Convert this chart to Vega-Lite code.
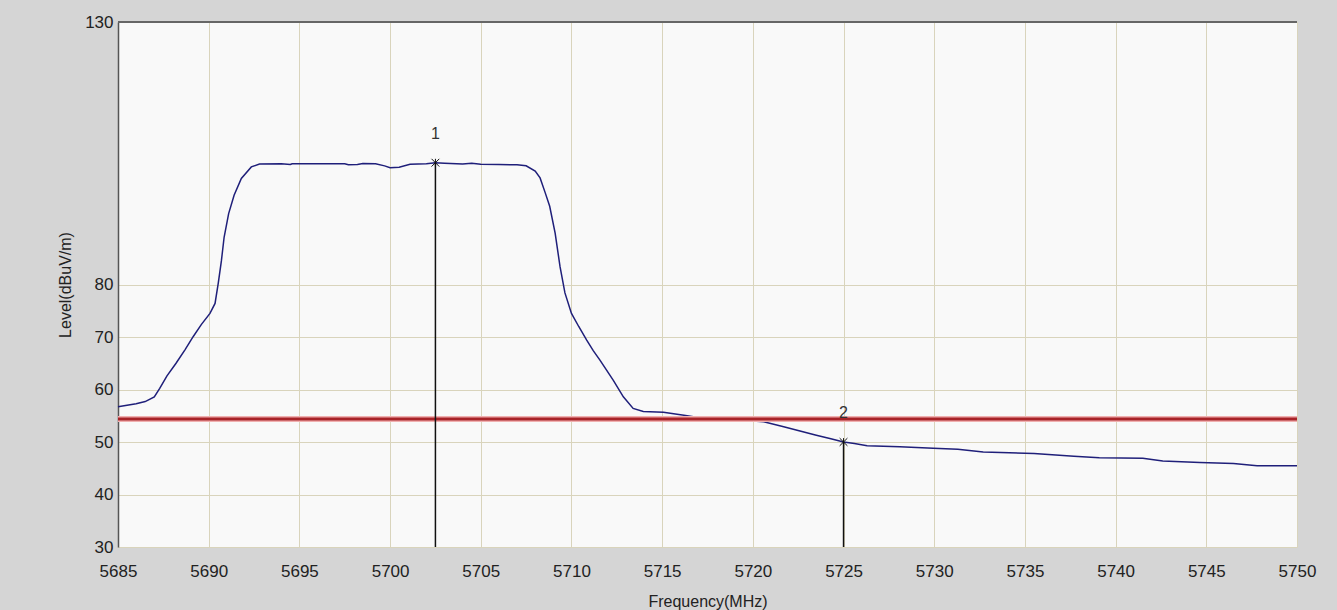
{
  "$schema": "https://vega.github.io/schema/vega-lite/v6.json",
  "width": 1179,
  "height": 525,
  "autosize": {"type": "none"},
  "padding": {"left": 118, "top": 22, "right": 40, "bottom": 63},
  "background": "#d5d5d5",
  "config": {
    "view": {"fill": "#f9f9f9", "stroke": null},
    "font": "Liberation Sans"
  },
  "datasets": {
    "trace": [
      {"f": 5685, "level": 56.7}, {"f": 5685.5, "level": 57.0}, {"f": 5686, "level": 57.3}, {"f": 5686.5, "level": 57.7},
      {"f": 5687, "level": 58.6}, {"f": 5687.3, "level": 60.2}, {"f": 5687.7, "level": 62.6}, {"f": 5688.2, "level": 65.0},
      {"f": 5688.7, "level": 67.6}, {"f": 5689.15, "level": 70.1}, {"f": 5689.6, "level": 72.4}, {"f": 5690.07, "level": 74.5},
      {"f": 5690.35, "level": 76.4}, {"f": 5690.53, "level": 80.3}, {"f": 5690.7, "level": 84.5}, {"f": 5690.85, "level": 89.0},
      {"f": 5691.1, "level": 93.5}, {"f": 5691.4, "level": 97.0}, {"f": 5691.8, "level": 100.2}, {"f": 5692.35, "level": 102.4},
      {"f": 5692.8, "level": 102.95}, {"f": 5694, "level": 103.0}, {"f": 5694.5, "level": 102.85}, {"f": 5694.6, "level": 103.0},
      {"f": 5696, "level": 103.0}, {"f": 5697.5, "level": 103.0}, {"f": 5697.7, "level": 102.8}, {"f": 5698.2, "level": 102.85},
      {"f": 5698.5, "level": 103.05}, {"f": 5699.2, "level": 103.0}, {"f": 5699.7, "level": 102.6}, {"f": 5700.0, "level": 102.25},
      {"f": 5700.5, "level": 102.35}, {"f": 5701.1, "level": 102.9}, {"f": 5702.0, "level": 103.0}, {"f": 5702.5, "level": 103.2},
      {"f": 5703.0, "level": 103.1}, {"f": 5704.0, "level": 102.95}, {"f": 5704.5, "level": 103.1}, {"f": 5705.0, "level": 102.9},
      {"f": 5706.0, "level": 102.85}, {"f": 5707.0, "level": 102.8}, {"f": 5707.5, "level": 102.6}, {"f": 5708.0, "level": 101.6},
      {"f": 5708.27, "level": 100.3}, {"f": 5708.55, "level": 97.5}, {"f": 5708.8, "level": 94.9}, {"f": 5709.1, "level": 89.8},
      {"f": 5709.37, "level": 83.4}, {"f": 5709.64, "level": 78.4}, {"f": 5710.0, "level": 74.5}, {"f": 5710.4, "level": 72.0},
      {"f": 5710.84, "level": 69.4}, {"f": 5711.2, "level": 67.4}, {"f": 5711.57, "level": 65.6}, {"f": 5712.3, "level": 61.8},
      {"f": 5712.86, "level": 58.6}, {"f": 5713.4, "level": 56.4}, {"f": 5713.96, "level": 55.8}, {"f": 5715.07, "level": 55.65},
      {"f": 5716.2, "level": 55.1}, {"f": 5716.9, "level": 54.7}, {"f": 5718.0, "level": 54.5}, {"f": 5719.0, "level": 54.3},
      {"f": 5719.8, "level": 54.05}, {"f": 5720.6, "level": 53.85}, {"f": 5721.7, "level": 52.9}, {"f": 5722.6, "level": 52.1},
      {"f": 5723.5, "level": 51.3}, {"f": 5724.3, "level": 50.6}, {"f": 5725.0, "level": 50.0}, {"f": 5725.6, "level": 49.7},
      {"f": 5726.3, "level": 49.3}, {"f": 5728.1, "level": 49.1}, {"f": 5729.95, "level": 48.8}, {"f": 5731.3, "level": 48.6},
      {"f": 5732.7, "level": 48.1}, {"f": 5735.5, "level": 47.8}, {"f": 5737.7, "level": 47.3}, {"f": 5739.1, "level": 47.0},
      {"f": 5741.5, "level": 46.9}, {"f": 5742.6, "level": 46.4}, {"f": 5744.65, "level": 46.1}, {"f": 5746.5, "level": 45.9},
      {"f": 5747.8, "level": 45.5}, {"f": 5750, "level": 45.5}
    ],
    "markers": [
      {"f": 5702.5, "level": 103.2, "floor": 30, "label": "1"},
      {"f": 5725, "level": 50.0, "floor": 30, "label": "2"}
    ],
    "limit": [{"level": 54.4}],
    "frame": [{"level": 130}]
  },
  "layer": [
    {
      "data": {"name": "trace"},
      "mark": {"type": "line", "color": "#1f1f7a", "strokeWidth": 1.5},
      "encoding": {
        "x": {
          "field": "f", "type": "quantitative",
          "scale": {"domain": [5685, 5750], "nice": false, "zero": false},
          "axis": {
            "values": [5685, 5690, 5695, 5700, 5705, 5710, 5715, 5720, 5725, 5730, 5735, 5740, 5745, 5750],
            "format": "d",
            "title": "Frequency(MHz)", "titleFontSize": 16, "titleFontWeight": "normal", "titleColor": "#222222",
            "titlePadding": 14,
            "labelFontSize": 17, "labelColor": "#222222", "labelPadding": 16, "labelFlush": false,
            "grid": true, "gridColor": "#d9d4bc", "gridWidth": 1,
            "ticks": false, "domain": false
          }
        },
        "y": {
          "field": "level", "type": "quantitative",
          "scale": {"domain": [30, 130], "nice": false, "zero": false},
          "axis": {
            "values": [30, 40, 50, 60, 70, 80, 130],
            "title": "Level(dBuV/m)", "titleFontSize": 16, "titleFontWeight": "normal", "titleColor": "#222222",
            "titlePadding": 11,
            "labelFontSize": 17, "labelColor": "#222222", "labelPadding": 5, "labelFlush": false,
            "grid": true, "gridColor": "#d9d4bc", "gridWidth": 1,
            "ticks": false, "domain": true, "domainColor": "#555555", "domainWidth": 1.5
          }
        }
      }
    },
    {
      "data": {"name": "frame"},
      "mark": {"type": "rule", "color": "#666666", "strokeWidth": 2},
      "encoding": {"y": {"field": "level", "type": "quantitative"}}
    },
    {
      "data": {"name": "limit"},
      "mark": {"type": "rule", "color": "#f0b0b0", "strokeWidth": 6},
      "encoding": {"y": {"field": "level", "type": "quantitative"}}
    },
    {
      "data": {"name": "limit"},
      "mark": {"type": "rule", "color": "#a82328", "strokeWidth": 3},
      "encoding": {"y": {"field": "level", "type": "quantitative"}}
    },
    {
      "data": {"name": "markers"},
      "mark": {"type": "rule", "color": "#111111", "strokeWidth": 1.5},
      "encoding": {
        "x": {"field": "f", "type": "quantitative"},
        "y": {"field": "level", "type": "quantitative"},
        "y2": {"field": "floor"}
      }
    },
    {
      "data": {"name": "markers"},
      "mark": {"type": "point", "shape": "M-1,-1L1,1M-1,1L1,-1M0,-1L0,1", "size": 60, "filled": false, "color": "#111111", "strokeWidth": 1, "opacity": 1},
      "encoding": {
        "x": {"field": "f", "type": "quantitative"},
        "y": {"field": "level", "type": "quantitative"}
      }
    },
    {
      "data": {"name": "markers"},
      "mark": {"type": "text", "dy": -29, "fontSize": 16, "color": "#333333", "font": "Liberation Sans"},
      "encoding": {
        "x": {"field": "f", "type": "quantitative"},
        "y": {"field": "level", "type": "quantitative"},
        "text": {"field": "label"}
      }
    }
  ]
}
